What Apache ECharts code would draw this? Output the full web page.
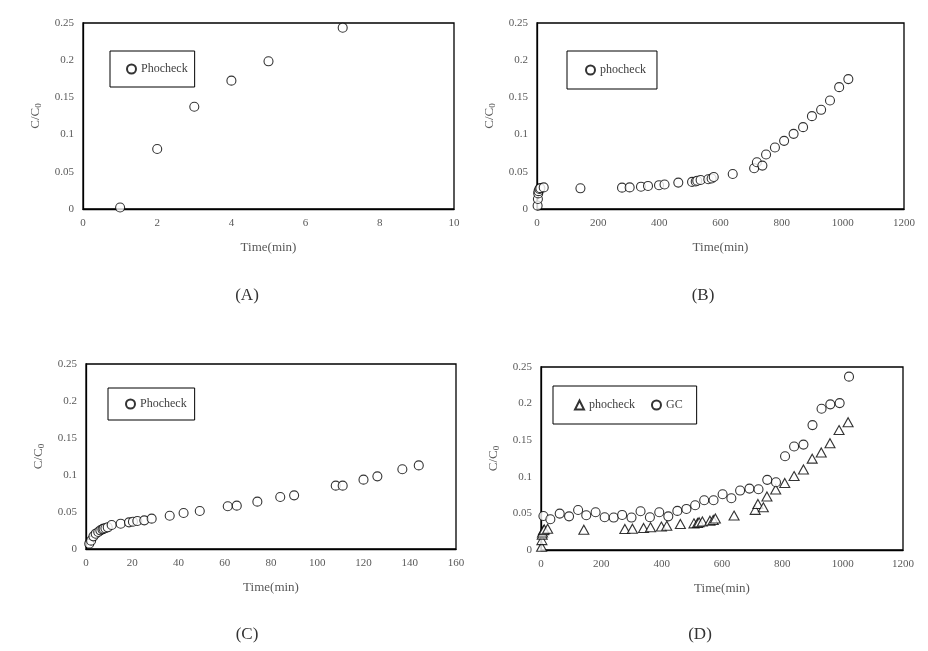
<!DOCTYPE html>
<html>
<head>
<meta charset="utf-8">
<script src="https://cdn.jsdelivr.net/npm/echarts@6/dist/echarts.min.js"></script>
<style>html,body{margin:0;padding:0;background:#fff}#c{width:928px;height:651px}</style>
</head>
<body>
<div id="c"></div>
<script>
// Panel A: Phocheck (short test)
const timeA = [1, 2, 3, 4, 5, 7];
const valA  = [0.002, 0.0806, 0.1375, 0.1725, 0.1985, 0.2437];

// Panel B / D: phocheck (long test)
const timeB = [2, 3, 4, 5, 8, 11, 22, 142, 278, 303, 340, 363, 399, 417, 462, 507, 519, 524, 535, 560, 571, 578, 640, 710, 719, 737, 749, 778, 808, 839, 870, 899, 929, 958, 988, 1018];
const valB  = [0.0045, 0.0135, 0.021, 0.024, 0.027, 0.028, 0.029, 0.0278, 0.0287, 0.029, 0.030, 0.031, 0.032, 0.033, 0.0355, 0.0364, 0.037, 0.038, 0.039, 0.040, 0.041, 0.043, 0.047, 0.0548, 0.0628, 0.0583, 0.0732, 0.0826, 0.0916, 0.101, 0.110, 0.1248, 0.1333, 0.1459, 0.1638, 0.1746];

// Panel C: Phocheck (first 150 min)
const timeC = [1.4, 2.2, 3.2, 4.2, 5.3, 6.2, 7.1, 7.6, 8.4, 9.4, 11.1, 15, 18.6, 20.3, 22.2, 25.2, 28.4, 36.2, 42.2, 49.2, 61.3, 65.2, 74.1, 84, 90, 108, 111, 120, 126, 136.8, 143.9];
const valC  = [0.0072, 0.0113, 0.0171, 0.0207, 0.023, 0.0252, 0.0266, 0.0275, 0.028, 0.0293, 0.0324, 0.0342, 0.036, 0.0369, 0.0378, 0.0387, 0.041, 0.045, 0.0486, 0.0514, 0.0577, 0.0586, 0.064, 0.0703, 0.0725, 0.0856, 0.0856, 0.0937, 0.0982, 0.1077, 0.113];

// Panel D: GC
const timeGC = [8, 31, 62, 93, 123, 150, 181, 211, 241, 269, 300, 330, 361, 392, 422, 452, 482, 511, 541, 572, 602, 631, 660, 691, 721, 750, 779, 809, 839, 870, 900, 930, 959, 990, 1021];
const valGC  = [0.0465, 0.042, 0.0497, 0.046, 0.0547, 0.0474, 0.0516, 0.0447, 0.0443, 0.0479, 0.0443, 0.0529, 0.0447, 0.0516, 0.046, 0.0534, 0.0561, 0.0611, 0.068, 0.068, 0.0762, 0.0707, 0.0812, 0.0839, 0.083, 0.0958, 0.0926, 0.128, 0.1414, 0.144, 0.1706, 0.193, 0.199, 0.2007, 0.2368];

const captions = ['(A)', '(B)', '(C)', '(D)'];
const xMax = [10, 1200, 160, 1200];
const xInterval = [2, 200, 20, 200];

const FONT = 'Liberation Serif';
const GRAY = '#595959';
const zip = (a, b) => a.map((v, i) => [v, b[i]]);

const grids = [
  {left: 83, top: 23, width: 371, height: 186},
  {left: 537, top: 23, width: 367, height: 186},
  {left: 86, top: 364, width: 370, height: 185},
  {left: 541, top: 367, width: 362, height: 183}
].map(g => Object.assign(g, {show: true, borderColor: '#000', borderWidth: 1.3, backgroundColor: '#fff'}));

const xAxes = grids.map((g, i) => ({
  type: 'value', gridIndex: i, min: 0, max: xMax[i], interval: xInterval[i],
  name: 'Time(min)', nameLocation: 'middle', nameGap: 32,
  nameTextStyle: {fontFamily: FONT, fontSize: 13, color: GRAY},
  axisLine: {show: true, onZero: false, lineStyle: {color: '#000', width: 1.3}},
  axisTick: {show: false}, splitLine: {show: false},
  axisLabel: {fontFamily: FONT, fontSize: 11, color: GRAY, margin: 9, formatter: v => String(v)}
}));

const yAxes = grids.map((g, i) => ({
  type: 'value', gridIndex: i, min: 0, max: 0.25, interval: 0.05,
  name: '{a|C/C}{b|0}', nameLocation: 'middle', nameRotate: 90, nameGap: 40,
  nameTextStyle: {fontFamily: FONT, fontSize: 13, color: GRAY,
    rich: {a: {fontFamily: FONT, fontSize: 13, color: GRAY}, b: {fontFamily: FONT, fontSize: 9, color: GRAY, verticalAlign: 'bottom', padding: [5, 0, 0, 0]}}},
  axisLine: {show: true, lineStyle: {color: '#000', width: 1.3}},
  axisTick: {show: false}, splitLine: {show: false},
  axisLabel: {fontFamily: FONT, fontSize: 11, color: GRAY, margin: 9, formatter: v => String(+v.toFixed(2))}
}));

const circleStyle = {color: '#fff', borderColor: '#000', borderWidth: 1.1};
const series = [
  {name: 'Phocheck_A', type: 'scatter', xAxisIndex: 0, yAxisIndex: 0, symbol: 'circle', symbolSize: 9, itemStyle: circleStyle, data: zip(timeA, valA)},
  {name: 'phocheck_B', type: 'scatter', xAxisIndex: 1, yAxisIndex: 1, symbol: 'circle', symbolSize: 9, itemStyle: circleStyle, data: zip(timeB, valB)},
  {name: 'Phocheck_C', type: 'scatter', xAxisIndex: 2, yAxisIndex: 2, symbol: 'circle', symbolSize: 9, itemStyle: circleStyle, data: zip(timeC, valC)},
  {name: 'phocheck_D', type: 'scatter', xAxisIndex: 3, yAxisIndex: 3, symbol: 'triangle', symbolSize: [10, 9], itemStyle: circleStyle, data: zip(timeB, valB)},
  {name: 'GC_D', type: 'scatter', xAxisIndex: 3, yAxisIndex: 3, symbol: 'circle', symbolSize: 9, itemStyle: circleStyle, data: zip(timeGC, valGC)}
];

const legendBase = {
  orient: 'horizontal', borderColor: '#000', borderWidth: 1, backgroundColor: '#fff',
  itemWidth: 9, itemHeight: 9, selectedMode: false,
  textStyle: {fontFamily: FONT, fontSize: 12, color: '#404040'},
  formatter: n => n.replace(/_.*/, '')
};
const legends = [
  Object.assign({}, legendBase, {left: 110, top: 51, padding: [12, 7, 12, 16], data: ['Phocheck_A']}),
  Object.assign({}, legendBase, {left: 567, top: 51, padding: [13, 11, 13, 18], data: ['phocheck_B']}),
  Object.assign({}, legendBase, {left: 108, top: 388, padding: [10, 8, 10, 17], data: ['Phocheck_C']}),
  Object.assign({}, legendBase, {left: 553, top: 386, padding: [13, 14, 13, 21], itemGap: 16, data: ['phocheck_D', 'GC_D']})
];

const capPos = [[247, 296], [703, 296], [247, 635], [700, 635]];
const graphic = captions.map((t, i) => ({
  type: 'text', x: capPos[i][0], y: capPos[i][1],
  style: {text: t, fontFamily: FONT, fontSize: 17, fill: '#333', align: 'center', verticalAlign: 'middle'}
}));

const chart = echarts.init(document.getElementById('c'), null, {renderer: 'canvas'});
chart.setOption({
  animation: false,
  backgroundColor: '#fff',
  grid: grids, xAxis: xAxes, yAxis: yAxes,
  legend: legends, series: series, graphic: graphic
});
</script>
</body>
</html>
